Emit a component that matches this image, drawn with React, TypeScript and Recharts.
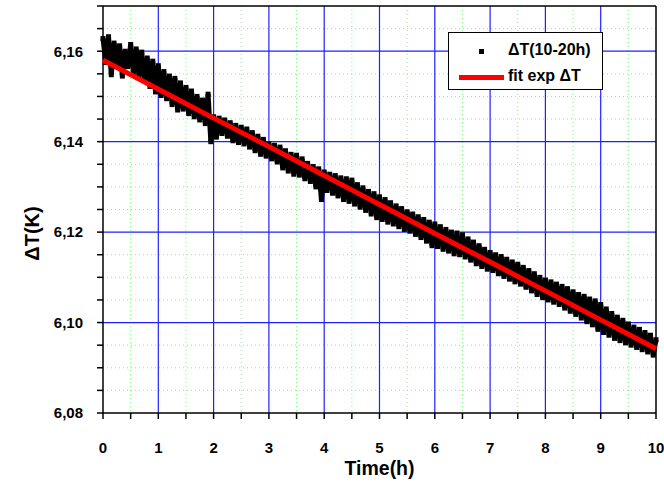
import { ComposedChart, Scatter, Line, XAxis, YAxis, CartesianGrid } from "recharts";

// sampling step of the measured series, in hours
const SAMPLE_STEP = 0.05;

// ΔT(10-20h) readings, one every 0.05 h from 0 to 10 h
const dT = [
  6.1628, 6.1575, 6.1632, 6.1548, 6.1618, 6.157, 6.1612, 6.1545, 6.16, 6.1566,
  6.1615, 6.1552, 6.1605, 6.1545, 6.1598, 6.1535, 6.1585, 6.1522, 6.1578, 6.151,
  6.1568, 6.1502, 6.1555, 6.1495, 6.1545, 6.1482, 6.154, 6.147, 6.153, 6.1472,
  6.152, 6.1462, 6.1512, 6.1455, 6.15, 6.1448, 6.1492, 6.144, 6.1505, 6.14,
  6.1455, 6.141, 6.1452, 6.1418, 6.1448, 6.1412, 6.1442, 6.1402, 6.1436, 6.1398,
  6.1432, 6.1395, 6.1428, 6.1388, 6.142, 6.138, 6.1412, 6.1372, 6.1405, 6.1368,
  6.1395, 6.1362, 6.1392, 6.1355, 6.1388, 6.1342, 6.138, 6.1335, 6.1372, 6.1328,
  6.137, 6.1326, 6.1362, 6.1318, 6.1352, 6.1312, 6.1345, 6.13, 6.134, 6.1272,
  6.1333, 6.1292, 6.1328, 6.1286, 6.1325, 6.128, 6.132, 6.1272, 6.1318, 6.1268,
  6.1315, 6.1262, 6.1305, 6.1255, 6.1298, 6.1248, 6.129, 6.124, 6.1285, 6.1232,
  6.1278, 6.1228, 6.1272, 6.1222, 6.1265, 6.1218, 6.1258, 6.1212, 6.1252, 6.1206,
  6.1245, 6.1202, 6.124, 6.1195, 6.1234, 6.1188, 6.1228, 6.118, 6.1222, 6.117,
  6.1218, 6.1168, 6.1212, 6.1162, 6.1206, 6.1158, 6.12, 6.1152, 6.1198, 6.115,
  6.1194, 6.1145, 6.1185, 6.1138, 6.1178, 6.113, 6.117, 6.1124, 6.1162, 6.1118,
  6.1155, 6.1115, 6.115, 6.1108, 6.1146, 6.1102, 6.114, 6.1096, 6.1134, 6.109,
  6.1129, 6.1085, 6.1122, 6.1078, 6.1115, 6.107, 6.1108, 6.1062, 6.11, 6.1055,
  6.1094, 6.105, 6.109, 6.1045, 6.1085, 6.104, 6.108, 6.1032, 6.1075, 6.1025,
  6.1068, 6.1018, 6.1062, 6.101, 6.1058, 6.1002, 6.1052, 6.0995, 6.1048, 6.0985,
  6.104, 6.0978, 6.103, 6.0972, 6.102, 6.0965, 6.1012, 6.096, 6.1005, 6.0955,
  6.0997, 6.095, 6.099, 6.0945, 6.0985, 6.094, 6.0978, 6.0935, 6.0972, 6.0928,
  6.0962,
];

// exponential fit
const fitTime = [0, 1, 2, 3, 4, 5, 6, 7, 8, 9, 10];
const fitDT = [6.158, 6.1516, 6.1452, 6.1389, 6.1325, 6.1261, 6.1197, 6.1134, 6.107, 6.1006, 6.0942];

const xTicks = [0, 0.5, 1, 1.5, 2, 2.5, 3, 3.5, 4, 4.5, 5, 5.5, 6, 6.5, 7, 7.5, 8, 8.5, 9, 9.5, 10];
const yTicks = [
  6.08, 6.085, 6.09, 6.095, 6.1, 6.105, 6.11, 6.115, 6.12, 6.125,
  6.13, 6.135, 6.14, 6.145, 6.15, 6.155, 6.16, 6.165, 6.17,
];
const yLabels = [6.08, 6.1, 6.12, 6.14, 6.16];
const xMajor = [1, 2, 3, 4, 5, 6, 7, 8, 9];
const xMinor = [0.5, 1.5, 2.5, 3.5, 4.5, 5.5, 6.5, 7.5, 8.5, 9.5];
const yMajor = [6.1, 6.12, 6.14, 6.16];
const yMinor = [6.085, 6.09, 6.095, 6.105, 6.11, 6.115, 6.125, 6.13, 6.135, 6.145, 6.15, 6.155, 6.165];

const dataPts = dT.map((v, i) => ({ t: i * SAMPLE_STEP, dt: v }));
const fitPts = fitTime.map((t, i) => ({ t, fit: fitDT[i] }));

const FONT = "'Liberation Sans', Arial, sans-serif";
const tickStyle = { fill: "#000", fontSize: 15, fontWeight: "bold", fontFamily: FONT };

const fmtX = (v: number) => (Number.isInteger(v) ? String(v) : "");
const fmtY = (v: number) =>
  yLabels.some((l) => Math.abs(l - v) < 1e-6) ? v.toFixed(2).replace(".", ",") : "";

const Square = (p: any) => (
  <rect x={p.cx - 2.5} y={p.cy - 2.5} width={5} height={5} fill="#000" />
);

export default function App() {
  return (
    <div style={{ position: "absolute", left: 0, top: 0, width: 664, height: 485, background: "#fff" }}>
      <ComposedChart width={664} height={485} margin={{ top: 6, right: 8, bottom: 0, left: 0 }}>
        <CartesianGrid
          horizontalValues={yMinor}
          verticalValues={xMinor}
          stroke="#88f088"
          strokeDasharray="1 3"
        />
        <CartesianGrid horizontalValues={yMajor} verticalValues={xMajor} stroke="#2020ff" strokeWidth={1.2} />
        <CartesianGrid horizontalValues={[6.17]} verticalValues={[10]} stroke="#000" strokeWidth={1.5} />

        <XAxis
          dataKey="t"
          type="number"
          domain={[0, 10]}
          ticks={xTicks}
          interval={0}
          tickFormatter={fmtX}
          height={72}
          tickSize={6}
          tickMargin={23}
          axisLine={{ stroke: "#000", strokeWidth: 1.5 }}
          tickLine={{ stroke: "#000", strokeWidth: 1.5 }}
          tick={tickStyle}
          label={(props: any) => {
            const vb = props.viewBox;
            return (
              <text
                x={vb.x + vb.width / 2}
                y={vb.y + 62}
                textAnchor="middle"
                fontFamily={FONT}
                fontWeight="bold"
                fontSize={19.5}
                fill="#000"
              >
                Time(h)
              </text>
            );
          }}
        />
        <YAxis
          type="number"
          domain={[6.08, 6.17]}
          ticks={yTicks}
          interval={0}
          tickFormatter={fmtY}
          width={103}
          tickSize={6}
          tickMargin={14}
          axisLine={{ stroke: "#000", strokeWidth: 1.5 }}
          tickLine={{ stroke: "#000", strokeWidth: 1.5 }}
          tick={tickStyle}
          allowDataOverflow
          label={(props: any) => {
            const vb = props.viewBox;
            const cx = vb.x + 32;
            const cy = vb.y + vb.height / 2 + 24;
            return (
              <text
                x={cx}
                y={cy}
                transform={`rotate(-90 ${cx} ${cy})`}
                textAnchor="middle"
                dominantBaseline="central"
                fontFamily={FONT}
                fontWeight="bold"
                fontSize={20}
                fill="#000"
              >
                ΔT(K)
              </text>
            );
          }}
        />

        <Scatter
          data={dataPts}
          dataKey="dt"
          shape={Square}
          line={{ stroke: "#000", strokeWidth: 5 }}
          lineType="joint"
          isAnimationActive={false}
        />
        <Line
          data={fitPts}
          dataKey="fit"
          type="monotone"
          stroke="#ff0000"
          strokeWidth={5}
          dot={false}
          zIndex={700}
          isAnimationActive={false}
        />
      </ComposedChart>

      <div
        style={{
          position: "absolute",
          left: 448,
          top: 32,
          width: 155,
          height: 58,
          boxSizing: "border-box",
          border: "1px solid #000",
          background: "#fff",
          fontFamily: FONT,
          fontWeight: "bold",
          fontSize: 16,
          color: "#000",
        }}
      >
        <div style={{ position: "absolute", left: 30, top: 16, width: 5, height: 5, background: "#000" }} />
        <div style={{ position: "absolute", left: 59, top: 8, whiteSpace: "nowrap" }}>ΔT(10-20h)</div>
        <div style={{ position: "absolute", left: 10, top: 42, width: 45, height: 5, background: "#ff0000" }} />
        <div style={{ position: "absolute", left: 59, top: 34, whiteSpace: "nowrap" }}>fit exp ΔT</div>
      </div>
    </div>
  );
}
